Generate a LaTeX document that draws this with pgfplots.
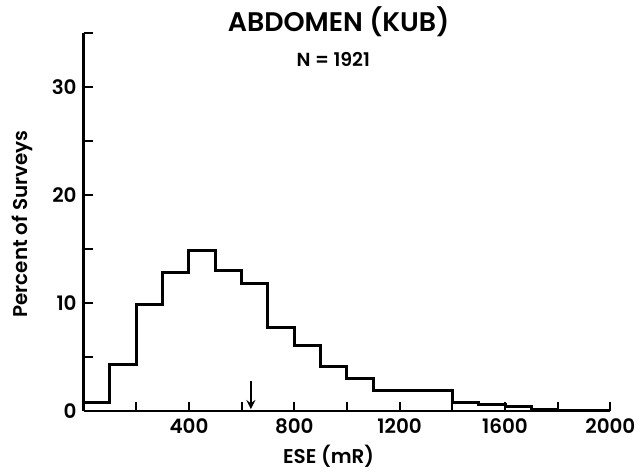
\documentclass[border=0pt]{standalone}
\usepackage{fontspec}
\setmainfont{Poppins}[BoldFont={Poppins SemiBold}]
\usepackage{pgfplots}
\pgfplotsset{compat=1.18}

\begin{document}
\begin{tikzpicture}
\begin{axis}[
  scale only axis, width=264.5pt, height=190pt,
  xmin=0, xmax=2000, ymin=0, ymax=35,
  axis x line=bottom, axis y line=left,
  axis line style={-, line width=1.2pt},
  xtick={400,800,...,2000}, minor xtick={200,600,...,1800},
  ytick={0,10,20,30}, minor ytick={5,15,25,35},
  tick align=inside, tick style={black, line width=1pt},
  major tick length=4.5pt, minor tick length=4.5pt,
  /pgf/number format/assume math mode=true,
  /pgf/number format/1000 sep={},
  tick label style={font=\fontsize{10}{12}\selectfont\bfseries},
  clip=false,
]
\addplot[const plot, black, line width=1.5pt] coordinates {
  (0,0.85) (100,4.3) (200,9.9) (300,12.8) (400,14.9) (500,13.0)
  (600,11.8) (700,7.7) (800,6.1) (900,4.1) (1000,3.0) (1100,1.9)
  (1400,0.8) (1500,0.6) (1600,0.4) (1700,0.12) (1800,0.1) (1900,0.05) (2000,0.05)
};
% mean marker
\draw[-stealth, line width=1pt] (axis cs:635,2.8) -- (axis cs:635,0.2);
\node[font=\fontsize{13.5}{16}\selectfont\bfseries] at (rel axis cs:0.484,1.029) {ABDOMEN (KUB)};
\node[font=\fontsize{9.5}{11}\selectfont\bfseries] at (rel axis cs:0.474,0.929) {N = 1921};
\node[font=\fontsize{10}{12}\selectfont\bfseries, rotate=90] at ([xshift=-31pt]rel axis cs:0,0.495) {Percent of Surveys};
\node[font=\fontsize{10}{12}\selectfont\bfseries] at ([yshift=-22.5pt]rel axis cs:0.465,0) {ESE (mR)};
\coordinate (o) at (rel axis cs:0,0);
\end{axis}
\path (o) ++(-42pt,-30pt) rectangle ++(321pt,236.5pt);
\end{tikzpicture}
\end{document}
